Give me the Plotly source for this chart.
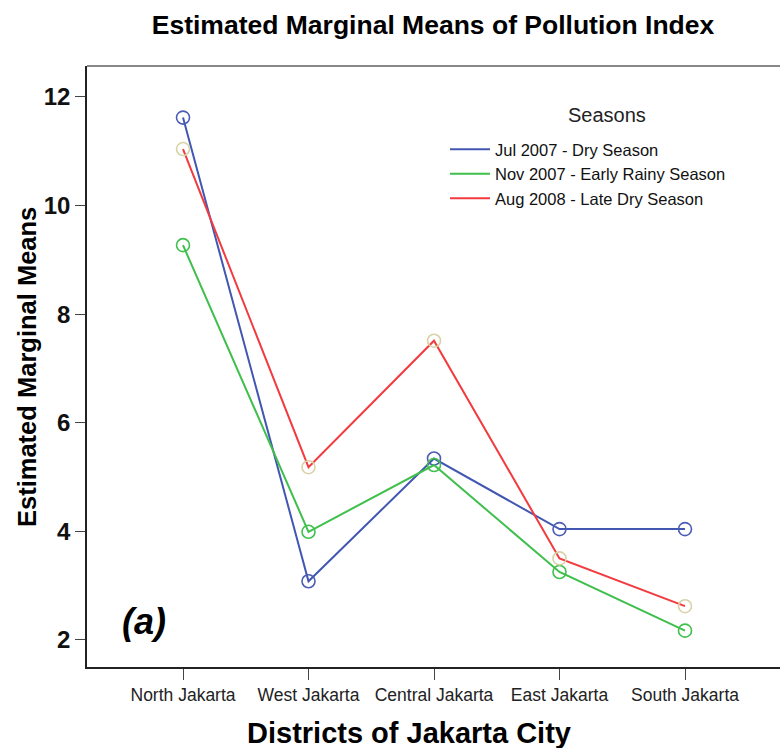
import plotly.graph_objects as go

districts = ["North Jakarta", "West Jakarta", "Central Jakarta", "East Jakarta", "South Jakarta"]
jul_2007_dry = [11.62, 3.08, 5.34, 4.04, 4.04]
nov_2007_early_rainy = [9.27, 3.99, 5.22, 3.25, 2.17]
aug_2008_late_dry = [11.04, 5.18, 7.51, 3.50, 2.62]

series_names = ["Jul 2007 - Dry Season", "Nov 2007 - Early Rainy Season", "Aug 2008 - Late Dry Season"]
series_values = [jul_2007_dry, nov_2007_early_rainy, aug_2008_late_dry]
line_colors = ["#4257b2", "#3fbf4c", "#f23a3f"]
marker_colors = ["#4a5cb4", "#3fbf4c", "#d8d2a6"]

y_ticks = [2, 4, 6, 8, 10, 12]

FONT = "Liberation Sans, Arial, sans-serif"

fig = go.Figure()
for name, vals, lc, mc in zip(series_names, series_values, line_colors, marker_colors):
    fig.add_trace(go.Scatter(
        x=districts, y=vals, mode="lines+markers", name=name, showlegend=False,
        line=dict(color=lc, width=2),
        marker=dict(symbol="circle-open", size=13, color=mc, line=dict(width=1.6, color=mc)),
    ))
for name, lc in zip(series_names, line_colors):
    fig.add_trace(go.Scatter(
        x=[districts[0]], y=[None], mode="lines", name=name,
        line=dict(color=lc, width=2), showlegend=True,
    ))

fig.update_layout(
    width=780, height=748,
    margin=dict(l=87, r=0, t=66, b=81),
    paper_bgcolor="white", plot_bgcolor="white",
    title=dict(text="<b>Estimated Marginal Means of Pollution Index</b>",
               x=433 / 780, xanchor="center", y=1 - 25 / 748, yanchor="middle",
               font=dict(family=FONT, size=26.5, color="black")),
    xaxis=dict(
        type="category", categoryorder="array", categoryarray=districts,
        range=[-0.765, 4.757],
        showline=True, linecolor="#222222", linewidth=1.5,
        ticks="outside", ticklen=11, tickwidth=1.3, tickcolor="#444444",
        tickfont=dict(family=FONT, size=17.5, color="#222222"),
        showgrid=False, zeroline=False,
    ),
    yaxis=dict(
        range=[1.50, 12.57], tickvals=y_ticks,
        showline=True, linecolor="#222222", linewidth=1.5,
        ticks="outside", ticklen=10, tickwidth=1.3, tickcolor="#444444",
        tickfont=dict(family=FONT, size=24, color="#111111", weight="bold"),
        showgrid=False, zeroline=False,
    ),
    legend=dict(
        x=(445 - 87) / 693, xanchor="left", y=1 - (132 - 66) / 601, yanchor="top",
        font=dict(family=FONT, size=16.5, color="#111111"),
        bgcolor="rgba(0,0,0,0)", tracegroupgap=0, itemwidth=40,
    ),
    shapes=[dict(type="line", xref="paper", yref="paper", x0=0, x1=1, y0=1, y1=1,
                 line=dict(color="#888888", width=2))],
    annotations=[
        dict(text="Seasons", xref="paper", yref="paper",
             x=(607 - 87) / 693, y=(667 - 115) / 601, xanchor="center", yanchor="middle",
             showarrow=False, font=dict(family=FONT, size=20, color="#222222")),
        dict(text="<b>Districts of Jakarta City</b>", xref="paper", yref="paper",
             x=(409 - 87) / 693, y=-(733 - 667) / 601, xanchor="center", yanchor="middle",
             showarrow=False, font=dict(family=FONT, size=29, color="black")),
        dict(text="<b>Estimated Marginal Means</b>", xref="paper", yref="paper",
             x=-(87 - 27) / 693, y=(667 - 367) / 601, xanchor="center", yanchor="middle",
             textangle=-90, showarrow=False, font=dict(family=FONT, size=25.5, color="black")),
        dict(text="<b><i>(a)</i></b>", xref="paper", yref="paper",
             x=(144 - 87) / 693, y=(667 - 621) / 601, xanchor="center", yanchor="middle",
             showarrow=False, font=dict(family=FONT, size=36, color="black")),
    ],
)

fig.write_html("out.html")
